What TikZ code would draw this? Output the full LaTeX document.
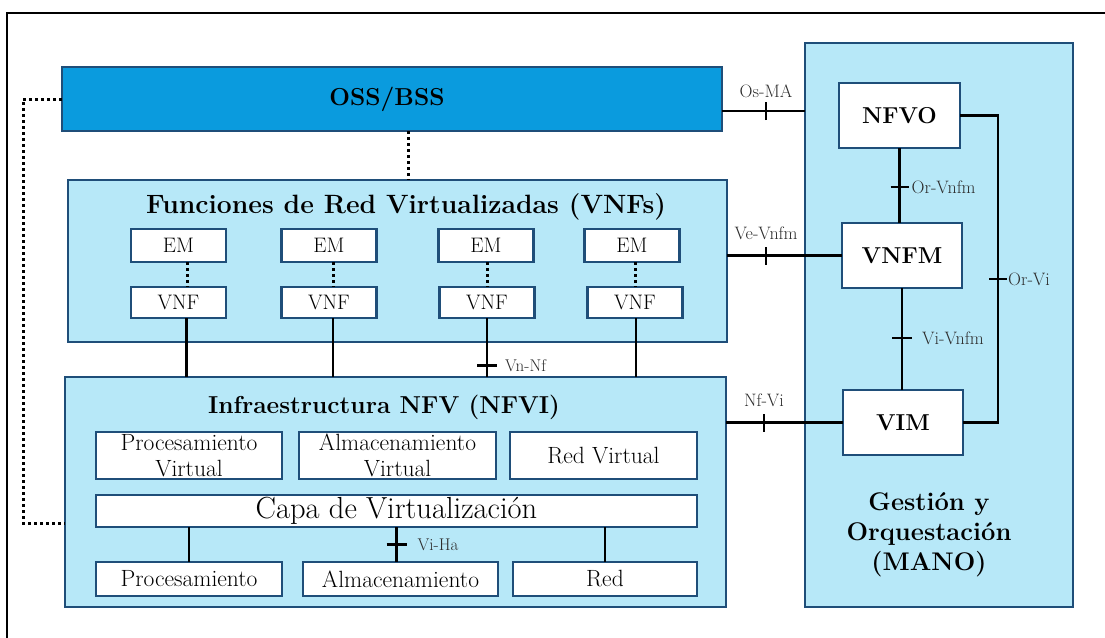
\documentclass[tikz,border=0pt]{standalone}
\usepackage{fontspec}
\usetikzlibrary{calc}
\definecolor{ossblue}{RGB}{10,155,222}
\definecolor{lightfill}{RGB}{183,232,248}
\definecolor{bord}{RGB}{31,78,121}
\definecolor{lbl}{RGB}{45,45,45}
\begin{document}
\begin{tikzpicture}[x=1pt,y=-1pt,
  box/.style={draw=bord, line width=2.5pt, fill=white, inner sep=0pt, outer sep=0pt, align=center},
  panel/.style={draw=bord, line width=2.5pt, fill=lightfill, inner sep=0pt, outer sep=0pt},
  conn/.style={line width=2.6pt, draw=black},
  dotconn/.style={line width=3pt, dash pattern=on 3pt off 3pt, draw=black},
  tickline/.style={line width=2.6pt, draw=black},
  lab/.style={font=\fontsize{17}{17}\selectfont, text=lbl, inner sep=1pt},
  mlab/.style={lab, font=\fontsize{18}{18}\selectfont},
  title/.style={font=\bfseries\fontsize{24.5}{24.5}\selectfont, inner sep=0pt, text=black},
  mgr/.style={box, font=\bfseries\fontsize{23}{23}\selectfont, minimum width=120, minimum height=65},
  smallbox/.style={box, font=\fontsize{21}{21}\selectfont, minimum width=95},
  infbox/.style={box, font=\fontsize{23.5}{26}\selectfont, minimum height=47},
  hwbox/.style={box, font=\fontsize{23.5}{23.5}\selectfont, minimum height=34}
]
\useasboundingbox (0,0) rectangle (1105,637);
\fill[white] (0,0) rectangle (1105,637);
% outer frame
\draw[line width=1.8pt] (7,660) -- (7,13) -- (1130,13);

% panels
\node[panel, fill=ossblue, minimum width=660, minimum height=64] (oss) at (392,99) {};
\node[title] (osst) at (387,99) {OSS/BSS};
\node[panel, minimum width=659, minimum height=162] (vnfs) at (397.5,261) {};
\node[title, font=\bfseries\fontsize{26.5}{26.5}\selectfont] (vnfst) at (406,207) {Funciones de Red Virtualizadas (VNFs)};
\node[panel, minimum width=661, minimum height=230] (nfvi) at (395.5,492) {};
\node[title] (nfvit) at (384,407) {Infraestructura NFV (NFVI)};
\node[panel, minimum width=268, minimum height=564] (mano) at (939,325) {};
\node[title, font=\bfseries\fontsize{25.5}{30}\selectfont, align=center] (manot) at (929,535) {Gestión y\\Orquestación\\(MANO)};

% MANO blocks
\node[mgr, minimum width=121] (nfvo) at (899.5,115.5) {NFVO};
\node[mgr] (vnfm) at (902,255.5) {VNFM};
\node[mgr] (vim) at (903,422.5) {VIM};

% EM / VNF
\node[smallbox, minimum height=33] (em1) at (178.5,245.5) {EM};
\node[smallbox, minimum height=33] (em2) at (329,245.5) {EM};
\node[smallbox, minimum height=33] (em3) at (486,245.5) {EM};
\node[smallbox, minimum height=33] (em4) at (632,245.5) {EM};
\node[smallbox, minimum height=31] (vnf1) at (178.5,302.5) {VNF};
\node[smallbox, minimum height=31] (vnf2) at (329,302.5) {VNF};
\node[smallbox, minimum height=31] (vnf3) at (487,302.5) {VNF};
\node[smallbox, minimum height=31] (vnf4) at (635,302.5) {VNF};

% NFVI blocks
\node[infbox, minimum width=186] (pv) at (189,455.5) {Procesamiento\\Virtual};
\node[infbox, minimum width=197] (av) at (397.5,455.5) {Almacenamiento\\Virtual};
\node[infbox, minimum width=187] (rv) at (603.5,455.5) {Red Virtual};
\node[box, minimum width=601, minimum height=32, font=\fontsize{30.5}{30.5}\selectfont] (capa) at (396.5,511) {Capa de Virtualización};
\node[hwbox, minimum width=186] (proc) at (189,579) {Procesamiento};
\node[hwbox, minimum width=195] (alm) at (400.5,579) {Almacenamiento};
\node[hwbox, minimum width=184] (red) at (605,579) {Red};

% dotted links
\coordinate (dl1) at (23,99);
\coordinate (dl2) at (23,523);
\draw[dotconn] (oss.west) -- (dl1) -- (dl2) -- (nfvi.west |- dl2);
\draw[dotconn] ([xshift=16pt]oss.south) -- ([xshift=16pt]oss.south |- vnfs.north);
\draw[dotconn] ([xshift=9pt]em1.south) -- ([xshift=9pt]em1.south |- vnf1.north);
\draw[dotconn] ([xshift=4pt]em2.south) -- ([xshift=4pt]em2.south |- vnf2.north);
\draw[dotconn] ([xshift=1pt]em3.south) -- ([xshift=1pt]em3.south |- vnf3.north);
\draw[dotconn] ([xshift=3pt]em4.south) -- ([xshift=3pt]em4.south |- vnf4.north);

% VNF to NFVI
\draw[conn] ([xshift=8pt]vnf1.south) -- ([xshift=8pt]vnf1.south |- nfvi.north);
\draw[conn] ([xshift=4pt]vnf2.south) -- ([xshift=4pt]vnf2.south |- nfvi.north);
\draw[conn] (vnf3.south) -- coordinate[pos=0.81] (tvn) (vnf3.south |- nfvi.north);
\draw[conn] ([xshift=1pt]vnf4.south) -- ([xshift=1pt]vnf4.south |- nfvi.north);
\draw[tickline] ([xshift=-10pt]tvn) -- ([xshift=10pt]tvn);
\node[lab, anchor=west] (lvn) at ([xshift=17pt]tvn) {Vn-Nf};

% capa to hardware
\draw[conn] (capa.south -| proc.north) -- (proc.north);
\draw[conn] ([xshift=-4pt]alm.north |- capa.south) -- coordinate[pos=0.5] (tvh) ([xshift=-4pt]alm.north);
\draw[conn] (capa.south -| red.north) -- (red.north);
\draw[tickline] ([xshift=-10pt]tvh) -- ([xshift=10pt]tvh);
\node[lab, anchor=west] (lvh) at ([xshift=20pt]tvh) {Vi-Ha};

% Os-Ma
\coordinate (osmay) at (0,111);
\draw[conn] (oss.east |- osmay) -- coordinate[pos=0.53] (tos) (mano.west |- osmay);
\draw[tickline] ([yshift=-9pt]tos) -- ([yshift=9pt]tos);
\node[mlab] (los) at ([yshift=20pt]tos) {Os-MA};

% Ve-Vnfm
\draw[conn] (vnfs.east |- vnfm.west) -- coordinate[pos=0.34] (tve) (vnfm.west);
\draw[tickline] ([yshift=-9pt]tve) -- ([yshift=9pt]tve);
\node[mlab] (lve) at ([yshift=22pt]tve) {Ve-Vnfm};

% Nf-Vi
\draw[conn] (nfvi.east |- vim.west) -- coordinate[pos=0.325] (tnf) (vim.west);
\draw[tickline] ([yshift=-9pt]tnf) -- ([yshift=9pt]tnf);
\node[mlab] (lnf) at ([yshift=22pt]tnf) {Nf-Vi};

% Or-Vnfm
\draw[conn] (nfvo.south) -- coordinate[pos=0.52] (tor) (nfvo.south |- vnfm.north);
\draw[tickline] ([xshift=-9pt]tor) -- ([xshift=9pt]tor);
\node[mlab, anchor=west] (lor) at ([xshift=11pt]tor) {Or-Vnfm};

% Vi-Vnfm
\draw[conn] (vnfm.south) -- coordinate[pos=0.49] (tvi) (vnfm.south |- vim.north);
\draw[tickline] ([xshift=-10pt]tvi) -- ([xshift=10pt]tvi);
\node[mlab, anchor=west] (lvi) at ([xshift=19pt]tvi) {Vi-Vnfm};

% Or-Vi
\coordinate (orvix) at (998,0);
\coordinate (torvi) at (998,279);
\draw[conn] (nfvo.east) -- (nfvo.east -| orvix) -- (vim.east -| orvix) -- (vim.east);
\draw[tickline] ([xshift=-9pt]torvi) -- ([xshift=9pt]torvi);
\node[mlab, anchor=west] (lorvi) at ([xshift=9pt]torvi) {Or-Vi};
\end{tikzpicture}
\end{document}
